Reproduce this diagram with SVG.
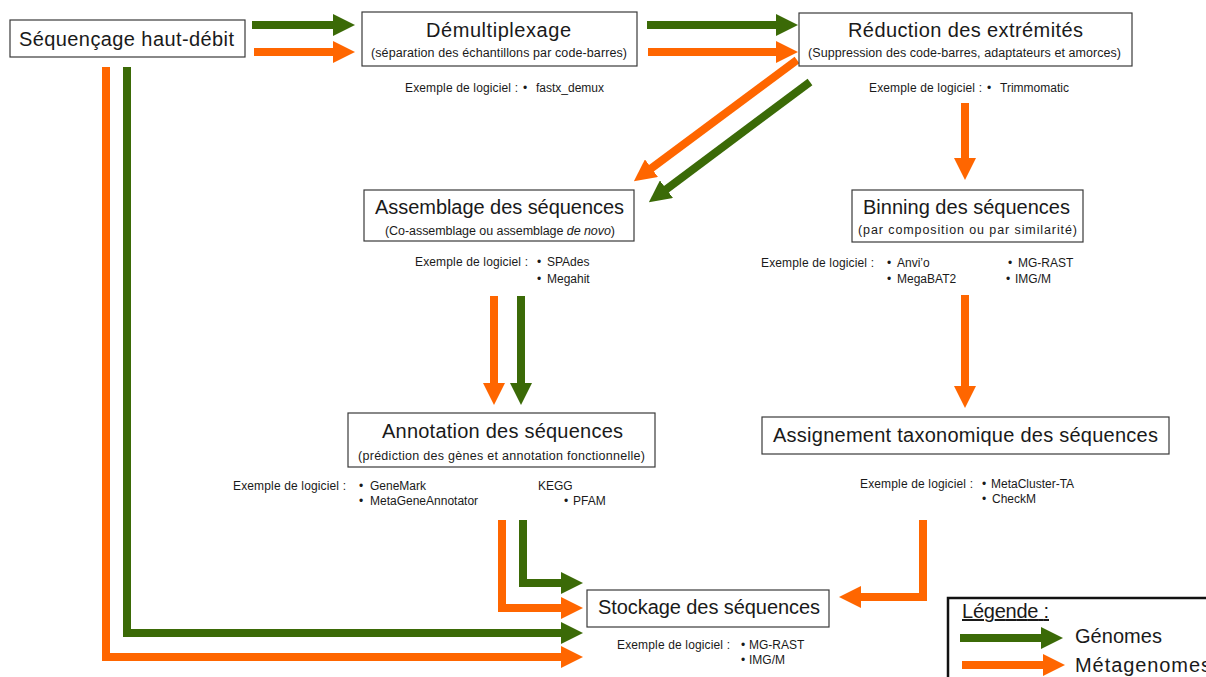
<svg xmlns="http://www.w3.org/2000/svg" width="1206" height="677" viewBox="0 0 1206 677">
<style>
text{font-family:"Liberation Sans",Arial,sans-serif;fill:#1a1a1a}
.box{fill:#fff;stroke:#3a3a3a;stroke-width:1.2}
.t{font-size:20px}
.s{font-size:12.5px}
.e{font-size:12px}
.g{fill:none;stroke:#3b6a07;stroke-width:8;stroke-linejoin:miter}
.o{fill:none;stroke:#ff6600;stroke-width:8;stroke-linejoin:miter}
.gm{marker-end:url(#hg)}
.om{marker-end:url(#ho)}
</style>
<defs>
<marker id="hg" markerUnits="userSpaceOnUse" markerWidth="22" markerHeight="22" viewBox="0 0 22 22" refX="1" refY="11" orient="auto"><path d="M0,0 L22,11 L0,22 z" fill="#3b6a07"/></marker>
<marker id="ho" markerUnits="userSpaceOnUse" markerWidth="22" markerHeight="22" viewBox="0 0 22 22" refX="1" refY="11" orient="auto"><path d="M0,0 L22,11 L0,22 z" fill="#ff6600"/></marker>
</defs>
<rect width="1206" height="677" fill="#fff"/>

<g id="connectors">
<line class="g gm" x1="252" y1="25" x2="334" y2="25"/>
<line class="o om" x1="254" y1="52" x2="334" y2="52"/>
<line class="g gm" x1="647" y1="25" x2="777" y2="25"/>
<line class="o om" x1="648" y1="52" x2="777" y2="52"/>
<line class="o om" x1="797" y1="60" x2="650.7" y2="168.8"/>
<line class="g gm" x1="810" y1="82" x2="665.7" y2="189.8"/>
<line class="o om" x1="965" y1="103" x2="965" y2="159"/>
<line class="o om" x1="965" y1="295" x2="965" y2="387"/>
<line class="o om" x1="494" y1="296" x2="494" y2="384"/>
<line class="g gm" x1="521" y1="296" x2="521" y2="384"/>
<path class="o om" d="M502,520 V608 H562"/>
<path class="g gm" d="M523,520 V583 H562"/>
<path class="g gm" d="M127,67 V633 H562"/>
<path class="o om" d="M106,67 V657 H562"/>
<path class="o om" d="M923,520 V597 H860"/>
</g>

<g id="sequencage">
<rect class="box" x="10" y="20" width="235" height="37"/>
<text class="t" x="19" y="46" textLength="215">Séquençage haut-débit</text>
</g>

<g id="demultiplexage">
<rect class="box" x="362" y="12" width="275" height="54"/>
<text class="t" x="426" y="37" textLength="145">Démultiplexage</text>
<text class="s" x="371" y="57" textLength="256">(séparation des échantillons par code-barres)</text>
<text class="e" x="405" y="92" textLength="113">Exemple de logiciel :</text>
<text class="e" x="523" y="92">•</text>
<text class="e" x="536" y="92">fastx_demux</text>
</g>

<g id="reduction">
<rect class="box" x="799" y="13" width="333" height="53"/>
<text class="t" x="848" y="37" textLength="235">Réduction des extrémités</text>
<text class="s" x="808" y="57" textLength="313">(Suppression des code-barres, adaptateurs et amorces)</text>
<text class="e" x="869" y="92" textLength="113">Exemple de logiciel :</text>
<text class="e" x="987" y="92">•</text>
<text class="e" x="1000" y="92">Trimmomatic</text>
</g>

<g id="assemblage">
<rect class="box" x="364" y="190" width="270" height="51"/>
<text class="t" x="375" y="214" textLength="249">Assemblage des séquences</text>
<text class="s" x="385" y="235" textLength="230">(Co-assemblage ou assemblage <tspan font-style="italic">de novo</tspan>)</text>
<text class="e" x="415" y="266" textLength="113">Exemple de logiciel :</text>
<text class="e" x="537" y="266">•</text>
<text class="e" x="547" y="266">SPAdes</text>
<text class="e" x="537" y="283">•</text>
<text class="e" x="547" y="283">Megahit</text>
</g>

<g id="binning">
<rect class="box" x="852" y="190" width="231" height="52"/>
<text class="t" x="863" y="214" textLength="207">Binning des séquences</text>
<text class="s" x="858" y="234" textLength="219">(par composition ou par similarité)</text>
<text class="e" x="761" y="267" textLength="113">Exemple de logiciel :</text>
<text class="e" x="887" y="267">•</text>
<text class="e" x="897" y="267">Anvi’o</text>
<text class="e" x="887" y="283">•</text>
<text class="e" x="897" y="283">MegaBAT2</text>
<text class="e" x="1008" y="267">•</text>
<text class="e" x="1018" y="267">MG-RAST</text>
<text class="e" x="1006" y="283">•</text>
<text class="e" x="1015" y="283">IMG/M</text>
</g>

<g id="annotation">
<rect class="box" x="348" y="413" width="307" height="54"/>
<text class="t" x="382" y="438" textLength="241">Annotation des séquences</text>
<text class="s" x="358" y="460" textLength="287">(prédiction des gènes et annotation fonctionnelle)</text>
<text class="e" x="233" y="490" textLength="113">Exemple de logiciel :</text>
<text class="e" x="359" y="490">•</text>
<text class="e" x="370" y="490">GeneMark</text>
<text class="e" x="359" y="505">•</text>
<text class="e" x="370" y="505">MetaGeneAnnotator</text>
<text class="e" x="538" y="490">KEGG</text>
<text class="e" x="564" y="505">•</text>
<text class="e" x="573" y="505">PFAM</text>
</g>

<g id="assignement">
<rect class="box" x="762" y="417" width="407" height="37"/>
<text class="t" x="773" y="442" textLength="385">Assignement taxonomique des séquences</text>
<text class="e" x="860" y="488" textLength="113">Exemple de logiciel :</text>
<text class="e" x="982" y="488">•</text>
<text class="e" x="991" y="488">MetaCluster-TA</text>
<text class="e" x="982" y="503">•</text>
<text class="e" x="992" y="503">CheckM</text>
</g>

<g id="stockage">
<rect class="box" x="587" y="590" width="242" height="37"/>
<text class="t" x="598" y="614" textLength="222">Stockage des séquences</text>
<text class="e" x="617" y="649" textLength="113">Exemple de logiciel :</text>
<text class="e" x="741" y="649">•</text>
<text class="e" x="749" y="649">MG-RAST</text>
<text class="e" x="741" y="664">•</text>
<text class="e" x="749" y="664">IMG/M</text>
</g>

<g id="legende">
<rect x="948" y="598" width="270" height="90" fill="#fff" stroke="#111" stroke-width="2.5"/>
<text x="962" y="618" font-size="20" text-decoration="underline" textLength="87">Légende :</text>
<line class="g gm" x1="960" y1="638" x2="1042" y2="638"/>
<line class="o om" x1="962" y1="665" x2="1044" y2="665"/>
<text x="1075" y="643" font-size="20" textLength="87">Génomes</text>
<text x="1075" y="672" font-size="20" textLength="136">Métagenomes</text>
</g>
</svg>
